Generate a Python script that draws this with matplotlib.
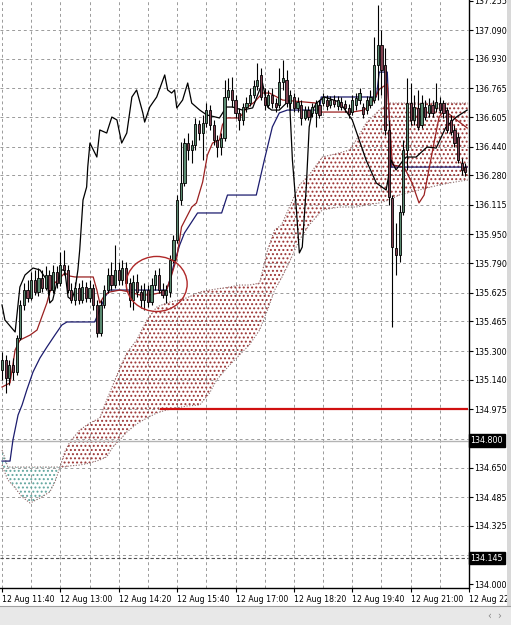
import matplotlib
matplotlib.use('Agg')
import matplotlib.pyplot as plt
from matplotlib.patches import Ellipse, Rectangle
from matplotlib.transforms import blended_transform_factory
import numpy as np

# ---------------- data ----------------
# bars: 5-minute candles, index 0 = 12 Aug 11:40
opens = [135.194, 135.250, 135.150, 135.222, 135.183, 135.373, 135.556, 135.640, 135.596, 135.697,
         135.629, 135.708, 135.652, 135.724, 135.640, 135.741, 135.680, 135.780, 135.752, 135.640,
         135.585, 135.652, 135.585, 135.657, 135.596, 135.652, 135.556, 135.400, 135.556, 135.640,
         135.724, 135.668, 135.752, 135.697, 135.763, 135.680, 135.585, 135.685, 135.629, 135.585,
         135.640, 135.573, 135.668, 135.724, 135.640, 135.613, 135.630, 135.808, 135.919, 136.142,
         136.237, 136.460, 136.421, 136.449, 136.566, 136.516, 136.572, 136.644, 136.561, 136.477,
         136.438, 136.488, 136.717, 136.756, 136.700, 136.628, 136.589, 136.661, 136.683, 136.728,
         136.778, 136.840, 136.717, 136.672, 136.728, 136.683, 136.672, 136.800, 136.812, 136.683,
         136.717, 136.656, 136.672, 136.600, 136.644, 136.628, 136.628, 136.672, 136.683, 136.700,
         136.672, 136.700, 136.667, 136.689, 136.678, 136.656, 136.633, 136.672, 136.700, 136.661,
         136.644, 136.672, 136.700, 136.895, 137.007, 136.895, 136.533, 136.154, 135.875, 135.836,
         136.075, 136.421, 136.683, 136.589, 136.656, 136.561, 136.661, 136.628, 136.672, 136.656,
         136.683, 136.683, 136.644, 136.589, 136.533, 136.494, 136.349, 136.326]
highs = [135.295, 135.278, 135.250, 135.261, 135.389, 135.585, 135.680, 135.697, 135.741, 135.752,
         135.763, 135.752, 135.774, 135.752, 135.780, 135.774, 135.852, 135.864, 135.780, 135.680,
         135.685, 135.680, 135.697, 135.685, 135.697, 135.674, 135.585, 135.585, 135.668, 135.763,
         135.797, 135.891, 135.797, 135.808, 135.797, 135.708, 135.724, 135.730, 135.668, 135.680,
         135.668, 135.708, 135.752, 135.763, 135.680, 135.668, 135.836, 135.947, 136.170, 136.466,
         136.488, 136.516, 136.477, 136.600, 136.589, 136.617, 136.683, 136.672, 136.589, 136.505,
         136.516, 136.812, 136.823, 136.828, 136.728, 136.656, 136.683, 136.717, 136.767, 136.812,
         136.907, 136.879, 136.767, 136.756, 136.767, 136.711, 136.879, 136.923, 136.868, 136.756,
         136.739, 136.717, 136.700, 136.667, 136.667, 136.683, 136.700, 136.700, 136.739, 136.728,
         136.723, 136.728, 136.723, 136.717, 136.700, 136.678, 136.728, 136.739, 136.767, 136.683,
         136.723, 136.756, 137.052, 137.230, 137.091, 136.990, 136.589, 136.170, 136.014, 136.115,
         136.477, 136.823, 136.795, 136.728, 136.756, 136.728, 136.700, 136.711, 136.700, 136.795,
         136.717, 136.700, 136.661, 136.617, 136.561, 136.516, 136.377, 136.349]
lows = [135.138, 135.066, 135.111, 135.138, 135.166, 135.361, 135.529, 135.573, 135.585, 135.613,
        135.607, 135.629, 135.640, 135.613, 135.624, 135.652, 135.663, 135.724, 135.624, 135.568,
        135.556, 135.562, 135.568, 135.573, 135.573, 135.529, 135.378, 135.384, 135.540, 135.624,
        135.640, 135.652, 135.668, 135.668, 135.640, 135.545, 135.529, 135.601, 135.540, 135.529,
        135.545, 135.556, 135.640, 135.624, 135.596, 135.568, 135.601, 135.791, 135.903, 136.115,
        136.221, 136.365, 136.349, 136.421, 136.477, 136.365, 136.550, 136.533, 136.449, 136.382,
        136.393, 136.471, 136.700, 136.661, 136.600, 136.533, 136.561, 136.633, 136.667, 136.711,
        136.756, 136.700, 136.644, 136.656, 136.656, 136.633, 136.656, 136.756, 136.661, 136.644,
        136.633, 136.633, 136.561, 136.589, 136.589, 136.605, 136.550, 136.600, 136.667, 136.644,
        136.656, 136.661, 136.644, 136.644, 136.633, 136.600, 136.617, 136.644, 136.678, 136.600,
        136.622, 136.656, 136.683, 136.700, 136.728, 136.505, 136.115, 135.434, 135.724, 135.797,
        136.059, 136.310, 136.561, 136.561, 136.533, 136.544, 136.589, 136.605, 136.605, 136.633,
        136.628, 136.600, 136.516, 136.505, 136.438, 136.349, 136.282, 136.276]
closes = [135.250, 135.150, 135.222, 135.183, 135.373, 135.556, 135.640, 135.596, 135.697, 135.629,
          135.708, 135.652, 135.724, 135.640, 135.741, 135.680, 135.780, 135.752, 135.640, 135.585,
          135.652, 135.585, 135.657, 135.596, 135.652, 135.556, 135.400, 135.556, 135.640, 135.724,
          135.668, 135.752, 135.697, 135.763, 135.680, 135.585, 135.685, 135.629, 135.585, 135.640,
          135.573, 135.668, 135.724, 135.640, 135.613, 135.640, 135.808, 135.919, 136.142, 136.237,
          136.460, 136.421, 136.449, 136.566, 136.516, 136.572, 136.644, 136.561, 136.477, 136.438,
          136.488, 136.717, 136.756, 136.700, 136.628, 136.589, 136.661, 136.683, 136.728, 136.778,
          136.812, 136.717, 136.672, 136.728, 136.683, 136.661, 136.800, 136.823, 136.683, 136.728,
          136.656, 136.689, 136.600, 136.644, 136.605, 136.661, 136.683, 136.617, 136.717, 136.667,
          136.700, 136.678, 136.700, 136.661, 136.656, 136.622, 136.700, 136.711, 136.739, 136.622,
          136.700, 136.717, 136.895, 137.007, 136.868, 136.533, 136.159, 135.880, 135.836, 136.075,
          136.421, 136.683, 136.589, 136.661, 136.550, 136.683, 136.605, 136.672, 136.628, 136.689,
          136.644, 136.628, 136.533, 136.522, 136.460, 136.365, 136.310, 136.299]

# Tenkan-sen (red)
tenkan_x = [0, 2.2, 3.6, 4.9, 7.7, 9.6, 10.9, 12.3, 13.1, 14.5, 15.9, 17.2, 18.6, 20, 25, 26, 26.8,
            28.2, 29.5, 32.3, 35, 37.7, 40.5, 43.2, 45.1, 46.5, 47.9, 49.2, 52, 53.3, 55, 56.3, 57.7,
            59.6, 60.4, 61.5, 65.1, 67, 69.2, 71.4, 73.3, 76.9, 86.2, 87, 96, 99.3, 102, 103.4, 105.6,
            107, 110.2, 112.4, 114.3, 115.7, 117, 118.4, 119.8, 121.2, 123.9, 127.5]
tenkan = [135.099, 135.122, 135.306, 135.361, 135.389, 135.417, 135.490, 135.568, 135.629, 135.680,
          135.708, 135.735, 135.718, 135.713, 135.713, 135.640, 135.568, 135.613, 135.629, 135.640,
          135.629, 135.613, 135.613, 135.624, 135.640, 135.724, 135.819, 135.992, 136.103, 136.126,
          136.243, 136.393, 136.460, 136.477, 136.561, 136.600, 136.600, 136.656, 136.689, 136.739,
          136.739, 136.700, 136.683, 136.633, 136.633, 136.644, 136.700, 136.760, 136.790, 136.338,
          136.326, 136.237, 136.126, 136.170, 136.310, 136.460, 136.605, 136.644, 136.600, 136.544]

# Kijun-sen (dark blue)
kijun_x = [0, 2.2, 3, 4.4, 5.5, 6.8, 8.5, 10.4, 12.3, 14.5, 16.4, 17.8, 25.4, 26.8, 28.2, 29.5, 45.1,
           46, 47.3, 48.7, 50, 53.6, 60.2, 61.8, 69.7, 71.9, 74.1, 76, 78.2, 87, 87.5, 102.6, 103.4,
           105.6, 106.7, 127.5]
kijun = [134.686, 134.686, 134.804, 134.943, 134.999, 135.083, 135.183, 135.261, 135.322, 135.389,
         135.445, 135.462, 135.462, 135.529, 135.601, 135.640, 135.640, 135.696, 135.797, 135.891,
         135.958, 136.070, 136.070, 136.170, 136.170, 136.365, 136.550, 136.628, 136.644, 136.644,
         136.717, 136.717, 136.856, 136.856, 136.326, 136.326]

# Chikou span (black)
chikou_x = [0, 0.8, 3.6, 4.9, 6.3, 8.5, 10.4, 12.3, 13.1, 13.9, 15.0, 16.4, 17.2, 18.1, 19.1, 20.0,
            20.8, 21.3, 22.2, 23.2, 23.5, 24.1, 26.0, 26.8, 28.7, 30.1, 31.5, 32.8, 34.2, 35.6, 36.9,
            38.6, 39.1, 40.5, 42.4, 44.6, 45.4, 46.5, 47.3, 47.9, 49.5, 50.9, 52.0, 54.2, 56.1, 59.6,
            61.5, 63.2, 65.9, 68.7, 70.6, 71.4, 72.8, 73.9, 76.0, 77.4, 78.8, 79.6, 80.7, 81.5, 82.3,
            83.4, 84.2, 85.1, 86.2, 88.3, 92.5, 96.0, 97.9, 99.8, 102.6, 105.3, 106.7, 108.0, 109.4,
            110.8, 113.5, 116.5, 119.0, 121.7, 124.5, 127.5]
chikou = [135.557, 135.473, 135.406, 135.657, 135.724, 135.763, 135.752, 135.696, 135.568, 135.585,
          135.679, 135.752, 135.752, 135.601, 135.585, 135.640, 135.752, 135.864, 136.142, 136.215,
          136.326, 136.460, 136.382, 136.533, 136.516, 136.605, 136.589, 136.460, 136.516, 136.717,
          136.756, 136.628, 136.577, 136.661, 136.717, 136.840, 136.756, 136.739, 136.756, 136.656,
          136.700, 136.795, 136.683, 136.644, 136.617, 136.600, 136.661, 136.661, 136.644, 136.656,
          136.756, 136.795, 136.661, 136.644, 136.644, 136.672, 136.700, 136.365, 136.086, 135.847,
          135.880, 136.215, 136.550, 136.644, 136.683, 136.717, 136.689, 136.589, 136.477, 136.365,
          136.237, 136.198, 136.365, 136.310, 136.349, 136.382, 136.382, 136.438, 136.432, 136.550,
          136.605, 136.644]

# Kumo (Senkou span A / B)
cloud_x = [0, 0.5, 1.6, 3.6, 5.5, 7.7, 10.4, 13.1, 14.5, 15.9, 17.2, 18.6, 21.3, 24.1, 26.8, 28.7,
           30.4, 32.3, 34.2, 36.9, 39.7, 42.4, 45.1, 50.6, 54.2, 56.9, 58.8, 62.4, 65.1, 67.8, 70.6,
           72.8, 74.7, 76.6, 78.8, 81.5, 84.2, 87.8, 92.5, 95.2, 97.1, 99.8, 103.4, 106.1, 108.9,
           114.3, 119.8, 123.9, 127.74]
span_a = [134.664, 134.636, 134.581, 134.536, 134.486, 134.452, 134.480, 134.514, 134.569, 134.653,
          134.737, 134.793, 134.859, 134.899, 134.926, 135.027, 135.110, 135.205, 135.289, 135.361,
          135.473, 135.545, 135.568, 135.596, 135.629, 135.640, 135.646, 135.657, 135.668, 135.668,
          135.679, 135.864, 135.975, 136.003, 136.103, 136.226, 136.282, 136.382, 136.405, 136.421,
          136.477, 136.572, 136.644, 136.683, 136.683, 136.683, 136.683, 136.683, 136.683]
span_b = [134.748, 134.720, 134.653, 134.653, 134.653, 134.653, 134.653, 134.653, 134.653, 134.653,
          134.653, 134.659, 134.664, 134.675, 134.692, 134.709, 134.765, 134.804, 134.848, 134.893,
          134.926, 134.954, 134.971, 134.993, 134.999, 135.066, 135.138, 135.222, 135.278, 135.334,
          135.417, 135.529, 135.640, 135.707, 135.797, 135.919, 136.003, 136.087, 136.103, 136.103,
          136.103, 136.115, 136.126, 136.142, 136.170, 136.198, 136.226, 136.242, 136.254]

# price scale
price_ticks = [137.255, 137.090, 136.930, 136.765, 136.605, 136.440, 136.280, 136.115, 135.950,
               135.790, 135.625, 135.465, 135.300, 135.140, 134.975, 134.650, 134.485, 134.325,
               134.000]
price_labels = ['137.255', '137.090', '136.930', '136.765', '136.605', '136.440', '136.280',
                '136.115', '135.950', '135.790', '135.625', '135.465', '135.300', '135.140',
                '134.975', '134.650', '134.485', '134.325', '134.000']
grid_prices = [137.090, 136.930, 136.765, 136.605, 136.440, 136.280, 136.115, 135.950, 135.790,
               135.625, 135.465, 135.300, 135.140, 134.975, 134.810, 134.650, 134.485, 134.325,
               134.160]
time_ticks = [0, 16, 32, 48, 64, 80, 96, 112, 128]
time_labels = ['12 Aug 11:40', '12 Aug 13:00', '12 Aug 14:20', '12 Aug 15:40', '12 Aug 17:00',
               '12 Aug 18:20', '12 Aug 19:40', '12 Aug 21:00', '12 Aug 22:20']
vgrid_ticks = [0, 8, 16, 24, 32, 40, 48, 56, 64, 72, 80, 88, 96, 104, 112, 120]

# objects drawn on chart
support_level = 134.975
support_start = 43.2
line_level_gray = 134.800
line_level_dash = 134.145
circle_center = (42.4, 135.674)
circle_w, circle_h = 16.7, 0.307

# ---------------- drawing ----------------
W, H = 511, 625
fig = plt.figure(figsize=(W / 100, H / 100), dpi=100)
fig.patch.set_facecolor('white')
ax = fig.add_axes([0, 37 / H, 469 / W, 588 / H])
XMIN, XMAX = -0.55, 127.74
ax.set_xlim(XMIN, XMAX)
ax.set_ylim(133.978, 137.258)
ax.set_facecolor('white')

grid_kw = dict(colors='#9a9a9a', linestyles=(0, (3, 3)), linewidth=0.7, zorder=0)
ax.hlines(grid_prices, XMIN, XMAX, **grid_kw)
ax.vlines(vgrid_ticks, 133.978, 137.258, **grid_kw)

# cloud
xa = np.array(cloud_x)
A = np.array(span_a)
B = np.array(span_b)
plt.rcParams['hatch.linewidth'] = 0.9
ax.fill_between(xa, A, B, where=A >= B, interpolate=True, facecolor='none',
                edgecolor='#9c3434', hatch='....', linewidth=0, zorder=1)
ax.fill_between(xa, A, B, where=A < B, interpolate=True, facecolor='none',
                edgecolor='#62a69e', hatch='....', linewidth=0, zorder=1)
ax.plot(xa, A, color='#8a6060', lw=0.8, ls=(0, (1, 1.5)), zorder=1.5)
ax.plot(xa, B, color='#8a7070', lw=0.8, ls=(0, (1, 1.5)), zorder=1.5)

# horizontal lines
ax.hlines(line_level_gray, XMIN, XMAX, colors='#b4b4b4', linewidth=1.0, zorder=1.6)
ax.hlines(line_level_dash, XMIN, XMAX, colors='#505050', linestyles=(0, (3, 2)),
          linewidth=0.8, zorder=1.6)
ax.hlines(support_level, support_start, XMAX, colors='#d01010', linewidth=1.6, zorder=2)

# indicator lines
ax.plot(kijun_x, kijun, color='#1c1c6e', lw=0.9, zorder=3)
ax.plot(tenkan_x, tenkan, color='#9a2020', lw=0.9, zorder=3)
ax.plot(chikou_x, chikou, color='#000000', lw=0.9, zorder=3)

# candles
idx = np.arange(len(opens))
o = np.array(opens); c = np.array(closes); h = np.array(highs); l = np.array(lows)
ax.vlines(idx, l, h, colors='black', linewidth=0.8, zorder=4)
bull = c >= o
ax.bar(idx[bull], (c - o)[bull], bottom=o[bull], width=0.6, color='#5a8a70',
       edgecolor='black', linewidth=0.6, zorder=5)
ax.bar(idx[~bull], (c - o)[~bull], bottom=o[~bull], width=0.6, color='#804050',
       edgecolor='black', linewidth=0.6, zorder=5)

# circle object
ax.add_patch(Ellipse(circle_center, circle_w, circle_h, fill=False, edgecolor='#b02828',
                     linewidth=1.0, zorder=6))

# axes styling
for s in ['top', 'left']:
    ax.spines[s].set_visible(False)
ax.spines['right'].set_color('black')
ax.spines['bottom'].set_color('black')
ax.spines['right'].set_linewidth(1.0)
ax.spines['bottom'].set_linewidth(1.0)
ax.yaxis.tick_right()
ax.set_yticks(price_ticks)
ax.set_yticklabels(price_labels)
ax.tick_params(axis='y', which='both', length=3, width=0.8, pad=1.0, labelsize=5.8,
               colors='black', direction='out')
ax.set_xticks(time_ticks)
ax.set_xticklabels(time_labels)
ax.tick_params(axis='x', length=3, width=0.8, pad=2, labelsize=5.6, direction='out')
for t in ax.get_xticklabels():
    t.set_ha('left')

# price label boxes
tr = blended_transform_factory(ax.transAxes, ax.transData)
for val, txt in [(line_level_gray, '134.800'), (line_level_dash, '134.145')]:
    ax.text(1.003, val, txt, transform=tr, fontsize=5.8, color='white', va='center',
            ha='left', bbox=dict(facecolor='black', edgecolor='black', pad=1.2), zorder=10,
            clip_on=False)

# window chrome: bottom scroll bar and right border
fig.add_artist(Rectangle((0, 0), 1, 19 / H, transform=fig.transFigure, facecolor='#e8e8e8',
                         edgecolor='none'))
fig.add_artist(plt.Line2D([0, 1], [19 / H, 19 / H], transform=fig.transFigure,
                          color='#a0a0a0', lw=0.8))
fig.add_artist(Rectangle((507 / W, 19 / H), 4 / W, 1 - 19 / H, transform=fig.transFigure,
                         facecolor='#d8d8d8', edgecolor='none'))
fig.text(489 / W, 9 / H, '\u2039', fontsize=7, color='#888888', ha='center', va='center')
fig.text(499 / W, 9 / H, '\u203a', fontsize=7, color='#888888', ha='center', va='center')

fig.savefig('out.png', dpi=100)
